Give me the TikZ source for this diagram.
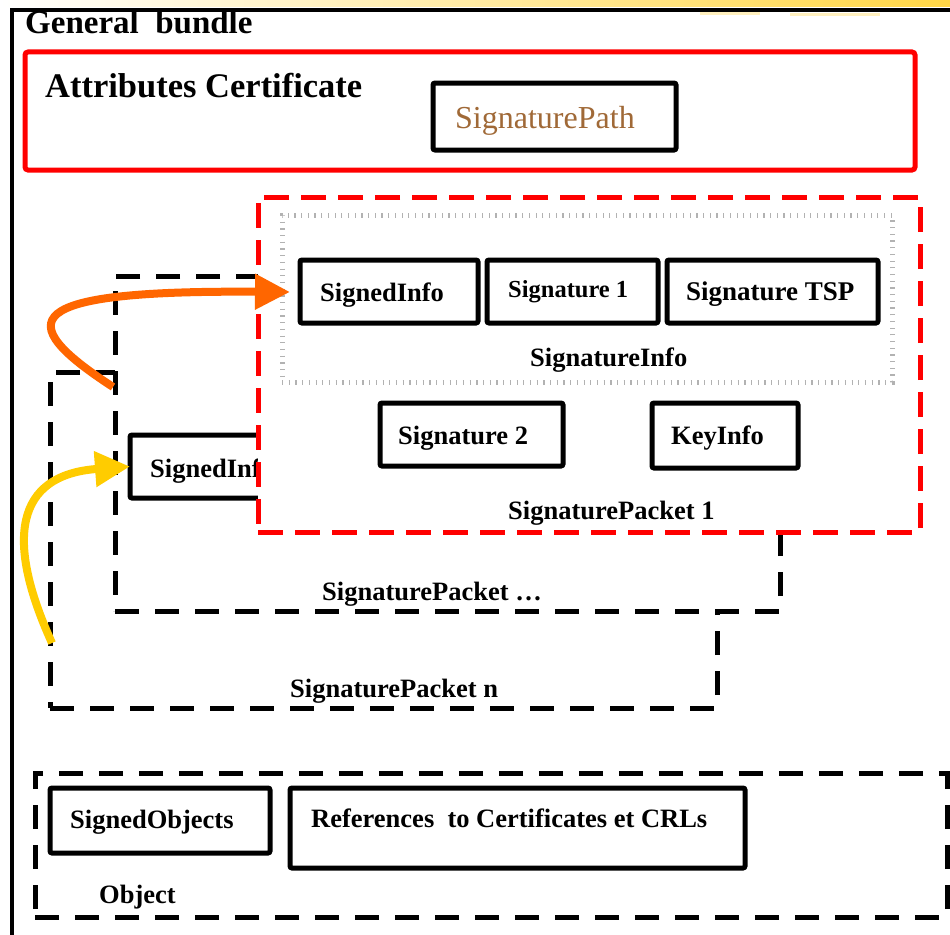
\documentclass[tikz,border=0pt]{standalone}
\usepackage{fontspec}
\setmainfont{Liberation Serif}
\usetikzlibrary{arrows.meta,fit}
\definecolor{orangearr}{RGB}{255,102,0}
\definecolor{yellowarr}{RGB}{255,204,0}
\definecolor{browntxt}{RGB}{160,105,55}
\definecolor{goldband}{RGB}{255,214,70}
\begin{document}
\begin{tikzpicture}[x=1pt,y=-1pt,
 box/.style={draw=black, line width=5pt, rounded corners=2pt, fill=white, inner sep=0pt, outer sep=0pt},
 dbox/.style={draw=black, line width=5pt, dash pattern=on 24pt off 16pt, fill=white, inner sep=0pt, outer sep=0pt},
 rdbox/.style={draw=red, line width=5pt, dash pattern=on 25pt off 12pt, fill=white, inner sep=0pt, outer sep=0pt},
 dotbox/.style={draw=gray!60, line width=5pt, dash pattern=on 1.2pt off 5.5pt, inner sep=0pt, outer sep=0pt},
 lbl/.style={inner sep=0pt, anchor=base west, font=\fontsize{26.5}{30}\selectfont\bfseries},
 arr/.style={line width=8pt, -{Triangle[length=35pt,width=34pt]}},
]
\useasboundingbox (0,0) rectangle (950,934);
\fill[white] (0,0) rectangle (950,934);
% yellow band at top
\shade[left color=white, right color=goldband] (0,0) rectangle (950,7);
\fill[goldband, opacity=0.35] (700,12) rectangle (760,15);
\fill[goldband, opacity=0.35] (790,13) rectangle (880,16);
% outer frame
\node[fit={(12,10) (970,960)}, draw=black, line width=4pt, inner sep=0pt, outer sep=0pt] (gb) {};
\node[lbl, font=\fontsize{33}{36}\selectfont\bfseries] (gbl) at (25,34) {General\ \ bundle};
% attributes certificate
\node[fit={(25,52) (915,170)}, draw=red, line width=5pt, rounded corners=3pt, inner sep=0pt, outer sep=0pt] (attr) {};
\node[lbl, font=\fontsize{34.5}{38}\selectfont\bfseries] (attrl) at (45,97) {Attributes Certificate};
\node[box, fit={(433,83) (676,150)}] (sp) {};
\node[lbl, font=\fontsize{32}{36}\selectfont, text=browntxt] (spl) at (455,128) {SignaturePath};
% signature packet n
\node[dbox, fit={(50,372) (717,708)}] (pn) {};
\node[lbl] (pnl) at (290,697) {SignaturePacket n};
% signature packet ...
\node[dbox, fit={(115,276) (780,611)}] (pd) {};
\node[lbl] (pdl) at (322,600) {SignaturePacket …};
\node[box, fit={(130,435) (300,498)}] (sip) {};
\node[lbl] (sipl) at (150,477) {SignedInfo};
% signature packet 1
\node[rdbox, fit={(258,197) (920,532)}] (p1) {};
\node[dotbox, fit={(282,215) (892,382)}] (sinfo) {};
\node[box, fit={(300,260) (478,323)}] (si1) {};
\node[box, fit={(487,260) (658,323)}] (sig1) {};
\node[box, fit={(667,260) (878,323)}] (tsp) {};
\node[lbl] (si1l) at (320,301) {SignedInfo};
\node[lbl, font=\fontsize{24.5}{28}\selectfont\bfseries] (sig1l) at (508,297) {Signature 1};
\node[lbl, font=\fontsize{27}{30}\selectfont\bfseries] (tspl) at (686,300) {Signature TSP};
\node[lbl] (sinfol) at (530,366) {SignatureInfo};
\node[box, fit={(380,403) (563,466)}] (sig2) {};
\node[box, fit={(652,403) (798,468)}] (key) {};
\node[lbl] (sig2l) at (398,444) {Signature 2};
\node[lbl] (keyl) at (671,444) {KeyInfo};
\node[lbl] (p1l) at (508,519) {SignaturePacket 1};
% object
\node[dbox, fit={(35,773) (947,917)}] (obj) {};
\node[box, fit={(50,788) (270,853)}] (sobj) {};
\node[box, fit={(290,788) (745,868)}] (refs) {};
\node[lbl] (sobjl) at (70,828) {SignedObjects};
\node[lbl] (refsl) at (311,827) {References\ \ to Certificates et CRLs};
\node[lbl] (objl) at (99,903) {Object};
% arrows
\coordinate (oS) at (113,387);
\coordinate (oE) at (290,292);
\coordinate (yS) at (52,643);
\draw[arr, draw=orangearr] (oS) .. controls (10,320) and (20,290) .. (oE);
\draw[arr, draw=yellowarr] (yS) .. controls (5,540) and (15,475) .. (sip.west);
\end{tikzpicture}
\end{document}
